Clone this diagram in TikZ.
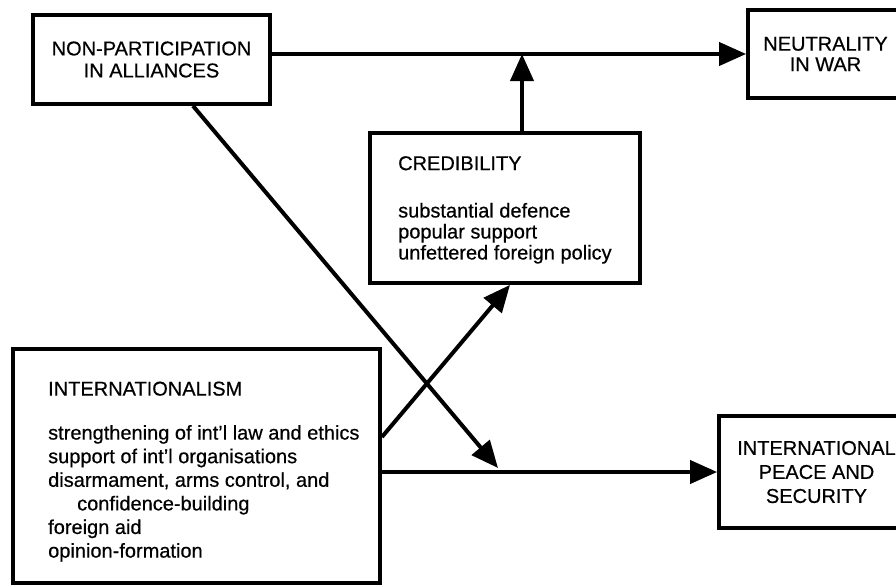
\documentclass[tikz,border=0pt]{standalone}
\usepackage{fontspec}
\setmainfont[FakeBold=0.5]{Liberation Sans}
\usetikzlibrary{arrows.meta,calc}
\begin{document}
\begin{tikzpicture}[x=1pt,y=-1pt,
  box/.style={draw, line width=3.8pt, inner sep=0pt, align=center},
  txt/.style={inner sep=0pt, align=left, anchor=north west},
  arr/.style={line width=4pt, -{Triangle[length=27pt,width=23pt]}}]
\fill[white] (0,0) rectangle (896,586);
\useasboundingbox (0,0) rectangle (896,586);
\clip (0,0) rectangle (896,586);
% boxes
\node[box, minimum width=237pt, minimum height=89pt, font=\fontsize{20}{22}\selectfont] (np) at (151.5,59.5) {NON-PARTICIPATION\\IN ALLIANCES};
\node[box, minimum width=155pt, minimum height=88pt, font=\fontsize{20}{20.5}\selectfont] (neu) at (825.5,54) {NEUTRALITY\\IN WAR};
\node[box, minimum width=270pt, minimum height=150pt] (cred) at (505,208) {};
\node[txt, font=\fontsize{20}{21}\selectfont] (credt) at (398,156) {CREDIBILITY\\[26.3pt]substantial defence\\popular support\\unfettered foreign policy};
\node[box, minimum width=367pt, minimum height=234pt] (intl) at (196.5,466) {};
\node[txt, font=\fontsize{20}{23.6}\selectfont] (intlt) at (48,381.4) {INTERNATIONALISM\\[20.4pt]strengthening of int'l law and ethics\\support of int'l organisations\\disarmament, arms control, and\\\hspace*{29pt}confidence-building\\foreign aid\\opinion-formation};
\node[box, minimum width=195pt, minimum height=112pt, font=\fontsize{20}{24}\selectfont] (pea) at (816.5,472) {INTERNATIONAL\\PEACE AND\\SECURITY};
% helper coordinates
\coordinate (j) at (522,52);
\coordinate (s1) at (193,104);
\coordinate (t1) at (498,468);
\coordinate (s2) at (380,437);
\coordinate (t2) at (510,283);
% connectors
\draw[arr] (np.east |- neu.west) -- (neu.west);
\draw[arr] (cred.north -| j) -- (j |- neu.west);
\draw[arr] (np.south -| s1) -- (t1);
\draw[arr] (intl.east |- s2) -- (cred.south -| t2);
\draw[arr] (intl.east |- pea.west) -- (pea.west);
\end{tikzpicture}
\end{document}
